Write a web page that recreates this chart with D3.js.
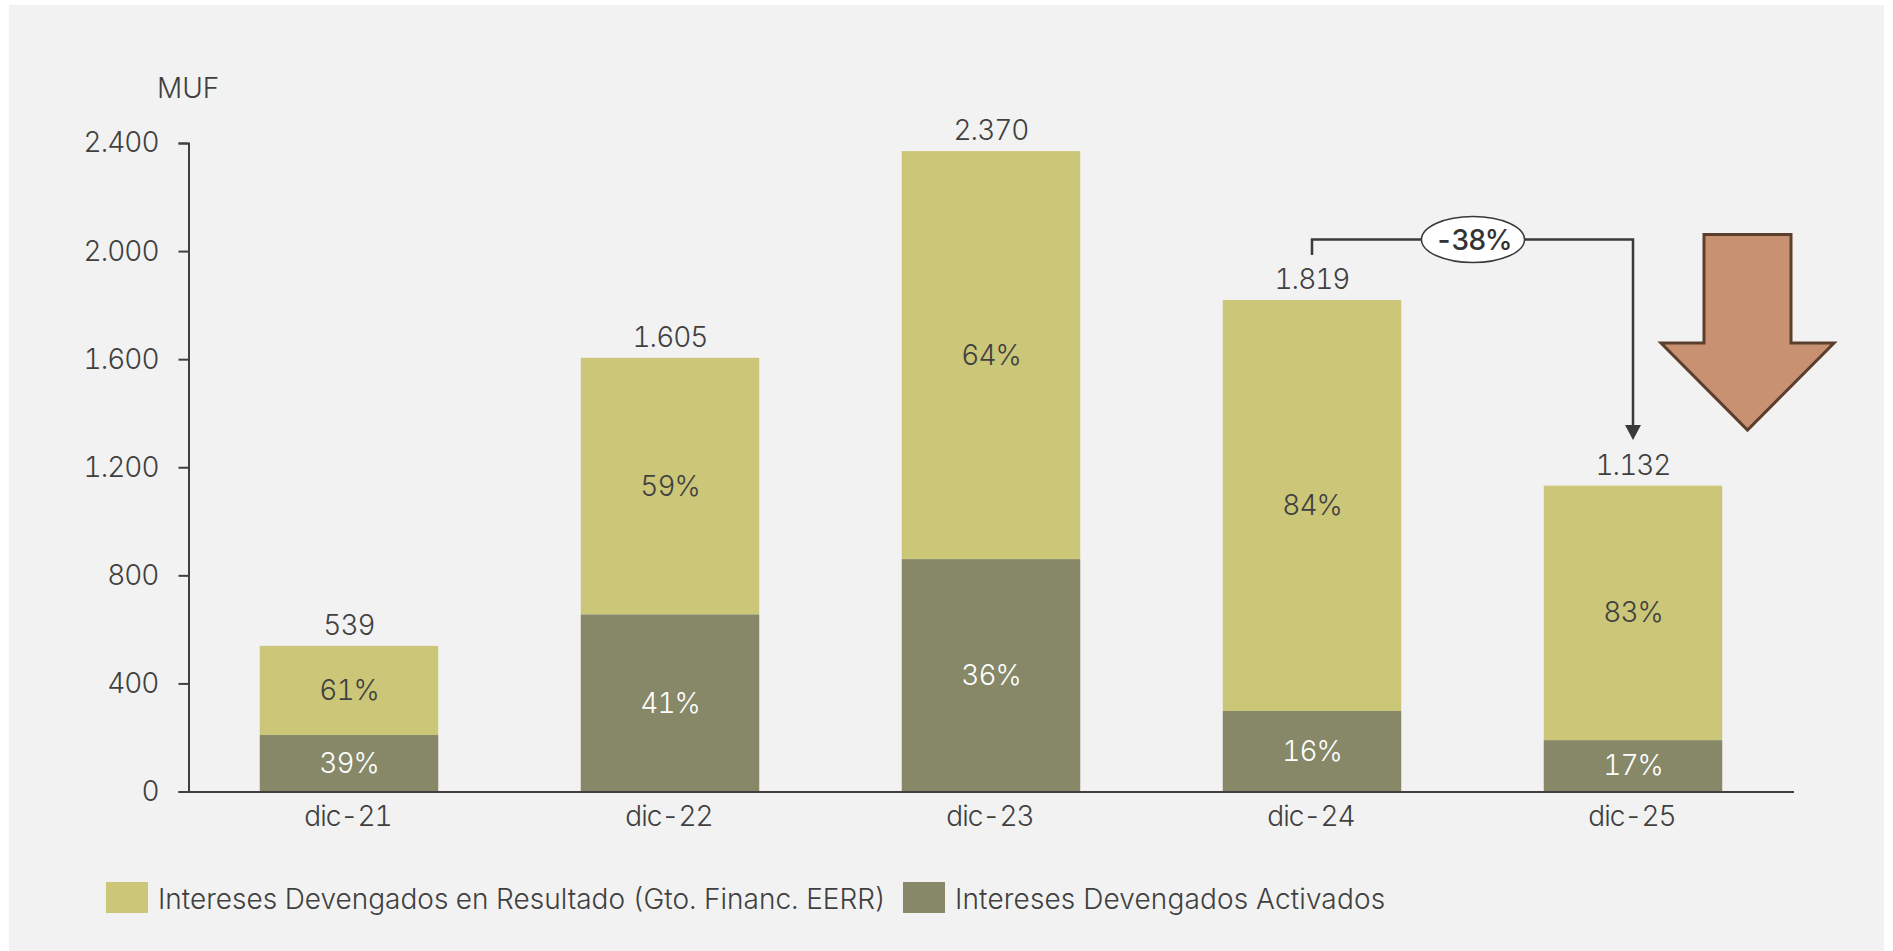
<!DOCTYPE html>
<html><head><meta charset="utf-8">
<script src="https://d3js.org/d3.v7.min.js"></script>
<style>html,body{margin:0;padding:0;background:#fff}svg{display:block}text{font-family:Inter,"Liberation Sans",sans-serif;font-weight:300;fill:#404040;font-variant-numeric:tabular-nums}text.n{letter-spacing:-1px}</style>
</head><body><div id="c"></div>
<script>
const categories=["dic-21","dic-22","dic-23","dic-24","dic-25"];
const totals=[539,1605,2370,1819,1132];
const activados=[209,655,860,298,190];
const pctResultado=["61%","59%","64%","84%","83%"];
const pctActivados=["39%","41%","36%","16%","17%"];
const yTicks=[0,400,800,1200,1600,2000,2400];
const legendLabels=["Intereses Devengados en Resultado (Gto. Financ. EERR)","Intereses Devengados Activados"];
const changeLabel="-38%";
const C={light:"#CCC679",dark:"#868867",bg:"#F2F2F2",axis:"#404040"};
const svg=d3.select("#c").append("svg").attr("width",1893).attr("height",951);
svg.append("rect").attr("x",9).attr("y",5).attr("width",1875).attr("height",946).attr("fill",C.bg);
const x=d3.scaleBand().domain(categories).range([188.5,1793.5]).paddingInner(.444).paddingOuter(.222);
const y=d3.scaleLinear().domain([0,2400]).range([791.5,143]);
const fmt=d3.formatLocale({decimal:",",thousands:".",grouping:[3],currency:["",""]}).format(",d");
const FS=28;
const g=svg.append("g");
categories.forEach((c,i)=>{
 const a=activados[i],t=totals[i];
 g.append("rect").attr("x",x(c)).attr("width",x.bandwidth()).attr("y",y(t)).attr("height",y(a)-y(t)).attr("fill",C.light);
 g.append("rect").attr("x",x(c)).attr("width",x.bandwidth()).attr("y",y(a)).attr("height",y(0)-y(a)).attr("fill",C.dark);
 const cx=x(c)+x.bandwidth()/2;
 g.append("text").attr("class","n").attr("x",cx).attr("y",y(t)-11).attr("text-anchor","middle").attr("font-size",FS).text(fmt(t));
 g.append("text").attr("class","n").attr("x",cx).attr("y",(y(t)+y(a))/2).attr("dy","0.34em").attr("text-anchor","middle").attr("font-size",FS).text(pctResultado[i]);
 g.append("text").attr("class","n").attr("x",cx).attr("y",(y(a)+y(0))/2).attr("dy","0.34em").attr("text-anchor","middle").attr("font-size",FS).style("fill","#fff").text(pctActivados[i]);
});
const yAxis=d3.axisLeft(y).tickValues(yTicks).tickSize(10).tickPadding(20).tickFormat(fmt);
const ya=svg.append("g").attr("transform","translate(188.5,0)").call(yAxis);
const xAxis=d3.axisBottom(x).tickSize(0).tickPadding(15);
const xa=svg.append("g").attr("transform","translate(0,791.5)").call(xAxis);
[ya,xa].forEach(s=>{s.attr("font-family",null).attr("font-size",null);s.selectAll("text").attr("font-size",FS).attr("class","n");s.selectAll("path,line").attr("stroke",C.axis).attr("stroke-width",2);});
xa.selectAll("text").attr("dy","0.71em").attr("dx",-1);
svg.append("text").attr("x",157).attr("y",98).attr("font-size",FS).text("MUF");
// legend
const L=[[106,882,42,legendLabels[0],C.light,158,0],[903,882,42,legendLabels[1],C.dark,955,0.15]];
L.forEach(d=>{
 svg.append("rect").attr("x",d[0]).attr("y",d[1]).attr("width",d[2]).attr("height",31).attr("fill",d[4]);
 svg.append("text").attr("x",d[5]).attr("y",909).attr("font-size",FS).style("letter-spacing",d[6]+"px").text(d[3]);
});
// change bracket
const x0=x("dic-24")+x.bandwidth()/2, x1=x("dic-25")+x.bandwidth()/2, by=239.5;
svg.append("path").attr("d",`M${x0},255V${by}H${x1}V428`).attr("fill","none").attr("stroke","#3A3A3A").attr("stroke-width",2.5);
svg.append("path").attr("d",`M${x1-8},425H${x1+8}L${x1},440Z`).attr("fill","#3A3A3A");
svg.append("ellipse").attr("cx",1473).attr("cy",by).attr("rx",51.5).attr("ry",23).attr("fill","#fff").attr("stroke","#3A3A3A").attr("stroke-width",1.5);
svg.append("text").attr("x",1473).attr("y",by).attr("dy","0.36em").attr("text-anchor","middle").attr("font-size",FS).style("font-weight",500).style("letter-spacing","-1.5px").style("fill","#333").text(changeLabel);
// big arrow
const line=d3.line();
svg.append("path").attr("d",line([[1704,234.5],[1791,234.5],[1791,343],[1834,343],[1747.5,430],[1661,343],[1704,343]])+"Z").attr("fill","#C89272").attr("stroke","#5B3E2B").attr("stroke-width",3);
</script></body></html>
